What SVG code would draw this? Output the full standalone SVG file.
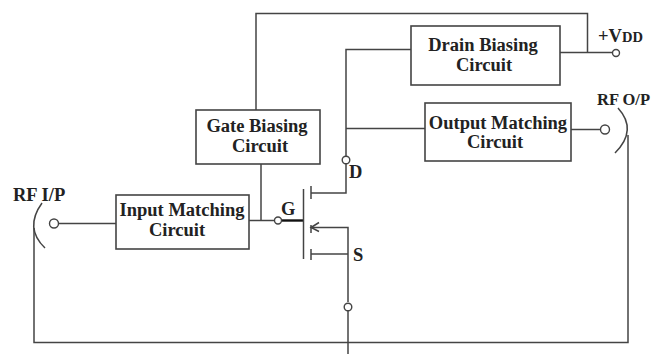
<svg xmlns="http://www.w3.org/2000/svg" width="654" height="354" viewBox="0 0 654 354">
<style>
.w{fill:none;stroke:#444;stroke-width:1.5}
.b{fill:#fff;stroke:#444;stroke-width:1.6}
.p{fill:#fff;stroke:#444;stroke-width:1.4}
text{font-family:"Liberation Serif","Times New Roman",serif;font-weight:bold;fill:#222;font-size:18.500px}
.c{text-anchor:middle}
</style>
<rect width="654" height="354" fill="#fff"/>
<g id="connectors">
<path class="w" d="M256 110V13.500H587.500V52"/>
<path class="w" d="M560 52.500H612"/>
<path class="w" d="M411 49.500H346V157"/>
<path class="w" d="M346 128.500H425"/>
<path class="w" d="M346 164V193H311"/>
<path class="w" d="M571 129.500H601"/>
<path class="w" d="M261 164V220.500"/>
<path class="w" d="M249 220.500H274"/>
<path d="M282 220.500H304" fill="none" stroke="#111" stroke-width="2.400"/>
<path class="w" d="M303.500 189V259"/>
<path class="w" d="M311 186V199M311 225V233M311 249V260"/>
<path class="w" d="M311 227.500H348V302"/>
<path class="w" d="M319 222.500L311 227.500L319 231.500"/>
<path class="w" d="M311 254H348"/>
<path class="w" d="M348 311V354"/>
<path class="w" d="M34 228V342.500H628V135"/>
<path class="w" d="M59 223.500H116"/>
<path class="w" d="M42 203Q24 228 45 248"/>
<path class="w" d="M618 108Q638 130 615 153"/>
</g>
<g id="drain-biasing"><rect class="b" x="411" y="26" width="149" height="59"/><text class="c" x="483" y="51">Drain Biasing</text><text class="c" x="484" y="71">Circuit</text></g>
<g id="output-matching"><rect class="b" x="425" y="103" width="146" height="58"/><text class="c" x="498" y="129">Output Matching</text><text class="c" x="495" y="148">Circuit</text></g>
<g id="gate-biasing"><rect class="b" x="196" y="110" width="124" height="54"/><text class="c" x="257" y="132">Gate Biasing</text><text class="c" x="260" y="152">Circuit</text></g>
<g id="input-matching"><rect class="b" x="116" y="195" width="133" height="54"/><text class="c" x="182" y="216">Input Matching</text><text class="c" x="177" y="236">Circuit</text></g>
<g id="terminals">
<circle class="p" cx="616" cy="53" r="3.500"/>
<circle class="p" cx="605" cy="129.500" r="4.500"/>
<circle class="p" cx="346" cy="160" r="3.800"/>
<circle class="p" cx="278" cy="220.500" r="3.500"/>
<circle class="p" cx="348" cy="307" r="3.800"/>
<circle class="p" cx="54" cy="223.500" r="4.500"/>
</g>
<g id="labels">
<text x="598" y="42">+V<tspan font-size="14.500px">DD</tspan></text>
<text x="597" y="105" style="font-size:16.500px">RF O/P</text>
<text x="13" y="201">RF I/P</text>
<text x="281" y="215">G</text>
<text x="349" y="178">D</text>
<text x="353" y="261">S</text>
</g>
</svg>
